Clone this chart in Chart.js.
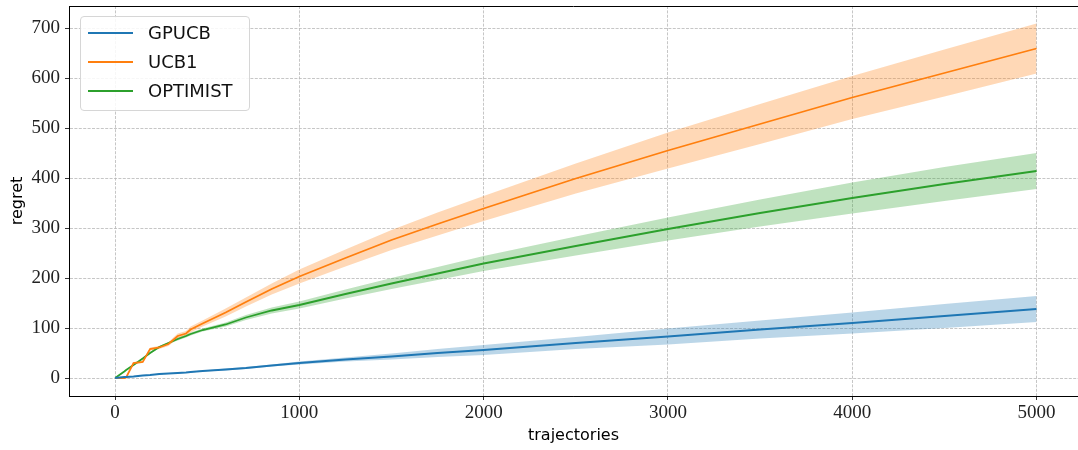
<!DOCTYPE html>
<html><head><meta charset="utf-8">
<script src="https://cdn.jsdelivr.net/npm/chart.js@4/dist/chart.umd.min.js"></script>
<style>
html,body{margin:0;padding:0;background:#fff;overflow:hidden}
#wrap{position:relative;width:1078px;height:450px}
#legend{position:absolute;left:80px;top:16px;width:168px;height:93px;border:1px solid #d6d6d6;border-radius:4px;background:rgba(255,255,255,0.85);font-family:"DejaVu Sans",sans-serif;font-size:18px;color:#111}
.row{position:absolute;left:0;width:168px;height:22px}
.sw{position:absolute;left:7px;top:10px;width:45px;height:2px}
.lb{position:absolute;left:67px;top:0;line-height:22px;white-space:nowrap}
</style></head><body>
<div id="wrap"><canvas id="c" width="1078" height="450"></canvas><div id="legend"></div></div>
<script>
// shared x positions (trajectories)
const xs        = [0, 50, 60, 100, 150, 190, 240, 290, 340, 385, 410, 475, 600, 710, 850, 1000, 1250, 1500, 1750, 2000, 2500, 3000, 3500, 4000, 4500, 5000];
// mean regret
const gpucbMean = [0, 2, 2, 3, 5, 6, 8, 9, 10, 11, 12, 14, 17, 20, 25, 30, 37, 43, 50, 56, 70, 83, 97, 110, 124, 138];
const ucb1Mean  = [0, 0, 1, 30, 32, 58, 61, 68, 84, 89, 97, 109, 131, 152, 178, 203, 240, 276, 308, 339, 399, 455, 508, 561, 610, 659];
const optMean   = [0, 13, 16, 26, 39, 50, 62, 70, 78, 84, 88, 96, 107, 121, 135, 146, 168, 189, 209, 229, 264, 298, 330, 360, 388, 414];
// half width of the shaded band
const gpucbSpread = [0, 0, 0, 0, 0, 0, 1, 1, 1, 1, 1, 1, 2, 2, 2, 3, 4, 6, 8, 10, 12, 16, 18, 21, 24, 26];
const ucb1Spread  = [0, 0, 0, 2, 2, 3, 3, 4, 5, 5, 6, 6, 8, 9, 11, 14, 17, 20, 23, 25, 30, 36, 40, 43, 47, 50];
const optSpread   = [0, 0, 0, 1, 1, 2, 2, 2, 3, 3, 3, 3, 4, 5, 6, 7, 9, 11, 13, 15, 19, 23, 27, 31, 34, 36];
// ticks
const xTicks = [0, 1000, 2000, 3000, 4000, 5000];
const yTicks = [0, 100, 200, 300, 400, 500, 600, 700];
const names  = ['GPUCB', 'UCB1', 'OPTIMIST'];

const colors = ['#1f77b4', '#ff7f0e', '#2ca02c'];
const bands  = ['rgba(31,119,180,0.3)', 'rgba(255,127,14,0.3)', 'rgba(44,160,44,0.3)'];
const means  = [gpucbMean, ucb1Mean, optMean];
const spreads = [gpucbSpread, ucb1Spread, optSpread];

const pts = ys => xs.map((x, i) => ({x: x, y: ys[i]}));
const datasets = [];
names.forEach((n, k) => {
  datasets.push({label: n, data: pts(means[k]), borderColor: colors[k], borderWidth: 1.8,
    pointRadius: 0, fill: false, tension: 0, order: 0});
});
names.forEach((n, k) => {
  const up = means[k].map((m, i) => m + spreads[k][i]);
  const lo = means[k].map((m, i) => m - spreads[k][i]);
  const upIdx = datasets.length;
  datasets.push({label: n + ' upper', data: pts(up), borderColor: 'transparent', borderWidth: 0,
    backgroundColor: bands[k], pointRadius: 0, fill: upIdx + 1, tension: 0, order: 1 + k});
  datasets.push({label: n + ' lower', data: pts(lo), borderColor: 'transparent', borderWidth: 0,
    pointRadius: 0, fill: false, tension: 0, order: 1 + k});
});

const topSpine = {
  id: 'topSpine',
  afterDraw(chart) {
    const a = chart.chartArea, ctx = chart.ctx;
    ctx.save();
    ctx.strokeStyle = '#000'; ctx.lineWidth = 1;
    ctx.beginPath(); ctx.moveTo(a.left, a.top + 0.5); ctx.lineTo(a.right, a.top + 0.5); ctx.stroke();
    ctx.restore();
  }
};

const tickFont = {family: '"Liberation Serif", serif', size: 19};
const gridCommon = {color: '#b8b8b8', lineWidth: 0.8, tickColor: '#000', tickLength: 4, tickWidth: 0.8, tickBorderDash: []};
const borderCommon = {display: true, color: '#000', width: 1, dash: [3, 1.4]};
const noPad = s => { s.paddingTop = 0; s.paddingBottom = 0; s.paddingLeft = 0; s.paddingRight = 0; };

new Chart(document.getElementById('c'), {
  type: 'line',
  data: {datasets: datasets},
  options: {
    responsive: false, animation: false, devicePixelRatio: 1,
    layout: {padding: {top: 6, left: 0, right: 0, bottom: 0}},
    plugins: {legend: {display: false}, tooltip: {enabled: false}},
    elements: {line: {borderCapStyle: 'butt'}},
    scales: {
      x: {
        type: 'linear', min: -250, max: 5225,
        afterBuildTicks: s => { s.ticks = xTicks.map(v => ({value: v})); },
        afterFit: s => { s.height = 54; noPad(s); },
        ticks: {font: tickFont, color: '#222', padding: 2, maxRotation: 0, autoSkip: false, callback: v => String(v)},
        grid: gridCommon, border: borderCommon,
        title: {display: true, text: 'trajectories', color: '#000',
          font: {family: '"DejaVu Sans", sans-serif', size: 16}, padding: {top: 0, bottom: 5}}
      },
      y: {
        type: 'linear', min: -36, max: 744,
        afterBuildTicks: s => { s.ticks = yTicks.map(v => ({value: v})); },
        afterFit: s => { s.width = 69; noPad(s); },
        ticks: {font: tickFont, color: '#222', padding: 5, autoSkip: false, callback: v => String(v)},
        grid: gridCommon, border: borderCommon,
        title: {display: true, text: 'regret', color: '#000',
          font: {family: '"DejaVu Sans", sans-serif', size: 16}, padding: {top: 8, bottom: 0}}
      }
    }
  },
  plugins: [topSpine]
});

// legend built from the series
const lg = document.getElementById('legend');
names.forEach((n, k) => {
  const r = document.createElement('div');
  r.className = 'row'; r.style.top = (5 + k * 29) + 'px';
  const s = document.createElement('div'); s.className = 'sw'; s.style.background = colors[k];
  const t = document.createElement('div'); t.className = 'lb'; t.textContent = n;
  r.appendChild(s); r.appendChild(t); lg.appendChild(r);
});
</script>
</body></html>
